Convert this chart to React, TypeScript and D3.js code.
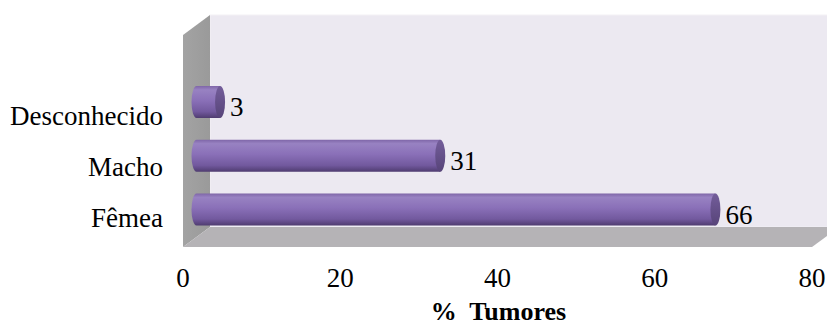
import React from "react";
import * as d3 from "d3";

const categories = ["Fêmea", "Macho", "Desconhecido"];
const values = [66, 31, 3];
const xTicks = [0, 20, 40, 60, 80];
const xTitle = "% Tumores";

const W = 827;
const H = 327;
const DX = 27; // depth offset of the back plane
const DY = -20;
const FONT = "'Liberation Serif', 'Times New Roman', serif";
const FS = 27;

export default function App() {
  const x = d3.scaleLinear().domain([0, 80]).range([183, 812]);
  // centres of the cylinders (mid-depth) and baselines of the category labels
  const y = d3.scalePoint<string>().domain(categories).range([209.5, 102]);
  const yLabel = d3.scalePoint<string>().domain(categories).range([227, 125]);
  const frontTop = 35;
  const frontBottom = 247;
  const x0 = x(0);
  const x1 = x(80);
  const barH = 32;
  const rx = 5;
  const midDX = DX / 2;

  return (
    <div style={{ position: "fixed", left: 0, top: 0 }}>
      <svg width={W} height={H} style={{ display: "block", background: "#fff" }}>
        <defs>
          <linearGradient id="barBody" x1="0" y1="0" x2="0" y2="1">
            <stop offset="0" stopColor="#7f66a8" />
            <stop offset="0.12" stopColor="#9882c2" />
            <stop offset="0.45" stopColor="#8a70b8" />
            <stop offset="0.8" stopColor="#72599e" />
            <stop offset="1" stopColor="#4f3c70" />
          </linearGradient>
          <linearGradient id="barCap" x1="0" y1="0" x2="0" y2="1">
            <stop offset="0" stopColor="#735d9a" />
            <stop offset="1" stopColor="#574479" />
          </linearGradient>
          <linearGradient id="sideWall" x1="0" y1="0" x2="1" y2="0">
            <stop offset="0" stopColor="#a3a3a3" />
            <stop offset="1" stopColor="#9a9a9a" />
          </linearGradient>
        </defs>

        {/* back wall */}
        <rect
          x={x0 + DX}
          y={frontTop + DY}
          width={x1 - x0}
          height={frontBottom - frontTop}
          fill="#ece9f1"
          stroke="#f3f1f6"
          strokeWidth={1}
        />
        {/* side wall */}
        <polygon
          points={[
            [x0, frontTop],
            [x0 + DX, frontTop + DY],
            [x0 + DX, frontBottom + DY],
            [x0, frontBottom],
          ]
            .map((p) => p.join(","))
            .join(" ")}
          fill="url(#sideWall)"
        />
        {/* floor */}
        <polygon
          points={[
            [x0, frontBottom],
            [x1, frontBottom],
            [x1 + DX, frontBottom + DY],
            [x0 + DX, frontBottom + DY],
          ]
            .map((p) => p.join(","))
            .join(" ")}
          fill="#b5b3b6"
        />

        {/* cylinders */}
        {categories.map((c, i) => {
          const cy = y(c) as number;
          const top = cy - barH / 2;
          const bot = cy + barH / 2;
          const xs = x(0) + midDX;
          const xe = x(values[i]) + midDX;
          const ry = barH / 2;
          const body = `M${xs},${top} L${xe},${top} L${xe},${bot} L${xs},${bot} A${rx},${ry} 0 0 1 ${xs},${top} Z`;
          return (
            <g key={c}>
              <path d={body} fill="url(#barBody)" />
              <ellipse cx={xe} cy={cy} rx={rx} ry={ry} fill="url(#barCap)" />
              <text
                x={xe + rx + 5}
                y={cy + 14}
                fontFamily={FONT}
                fontSize={FS}
                fill="#000"
              >
                {values[i]}
              </text>
            </g>
          );
        })}

        {/* category labels */}
        {categories.map((c) => (
          <text
            key={c}
            x={163}
            y={yLabel(c) as number}
            textAnchor="end"
            fontFamily={FONT}
            fontSize={FS}
            fill="#000"
          >
            {c}
          </text>
        ))}

        {/* x tick labels */}
        {xTicks.map((t) => (
          <text
            key={t}
            x={x(t)}
            y={287}
            textAnchor="middle"
            fontFamily={FONT}
            fontSize={FS}
            fill="#000"
          >
            {t}
          </text>
        ))}

        <text
          x={(x0 + x1) / 2 + 1}
          y={320}
          textAnchor="middle"
          fontFamily={FONT}
          fontSize={26}
          fontWeight="bold"
          fill="#000"
          style={{ whiteSpace: "pre" }}
        >
          {xTitle.replace(" ", "\u00a0 ")}
        </text>
      </svg>
    </div>
  );
}
